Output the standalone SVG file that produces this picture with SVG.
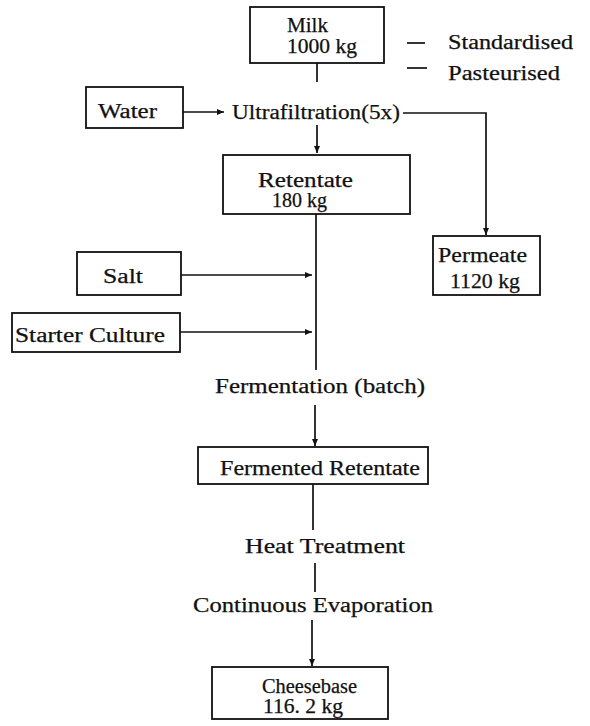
<svg xmlns="http://www.w3.org/2000/svg" width="590" height="726" viewBox="0 0 590 726">
<style>
.box{fill:none;stroke:#111;stroke-width:1.8}
.ln{fill:none;stroke:#111;stroke-width:1.7}
text{font-family:"Liberation Serif","Times New Roman",serif;font-size:20px;fill:#111;stroke:#111;stroke-width:0.25}
</style>
<defs>
<marker id="ah" markerWidth="8" markerHeight="8" refX="7" refY="4" orient="auto" markerUnits="userSpaceOnUse">
<path d="M0,1 L7,4 L0,7 Z" fill="#111"/>
</marker>
</defs>
<rect width="590" height="726" fill="#fff"/>
<g id="milk"><rect class="box" x="250" y="7" width="134" height="56"/>
<text x="287" y="32" textLength="41" lengthAdjust="spacingAndGlyphs">Milk</text>
<text x="287" y="53" textLength="70" lengthAdjust="spacingAndGlyphs">1000 kg</text></g>
<g id="standardised"><text x="448" y="49" textLength="125" lengthAdjust="spacingAndGlyphs">Standardised</text></g>
<g id="pasteurised"><text x="448" y="80" textLength="112" lengthAdjust="spacingAndGlyphs">Pasteurised</text></g>
<g id="water"><rect class="box" x="86" y="87" width="97" height="41"/>
<text x="98" y="118" textLength="59" lengthAdjust="spacingAndGlyphs">Water</text></g>
<g id="ultrafiltration"><text x="232" y="119" textLength="168" lengthAdjust="spacingAndGlyphs">Ultrafiltration(5x)</text></g>
<g id="retentate"><rect class="box" x="223" y="155" width="187" height="59"/>
<text x="258" y="187" textLength="95" lengthAdjust="spacingAndGlyphs">Retentate</text>
<text x="272" y="207" textLength="55" lengthAdjust="spacingAndGlyphs">180 kg</text></g>
<g id="permeate"><rect class="box" x="433" y="236" width="107" height="59"/>
<text x="438" y="262" textLength="89" lengthAdjust="spacingAndGlyphs">Permeate</text>
<text x="450" y="288" textLength="70" lengthAdjust="spacingAndGlyphs">1120 kg</text></g>
<g id="salt"><rect class="box" x="77" y="252" width="104" height="43"/>
<text x="103" y="283" textLength="40" lengthAdjust="spacingAndGlyphs">Salt</text></g>
<g id="starter"><rect class="box" x="12" y="313" width="168" height="39"/>
<text x="15" y="342" textLength="150" lengthAdjust="spacingAndGlyphs">Starter Culture</text></g>
<g id="fermentation"><text x="215" y="393" textLength="210" lengthAdjust="spacingAndGlyphs">Fermentation (batch)</text></g>
<g id="fermented"><rect class="box" x="198" y="447" width="230" height="37"/>
<text x="220" y="475" textLength="200" lengthAdjust="spacingAndGlyphs">Fermented Retentate</text></g>
<g id="heat"><text x="245" y="553" textLength="160" lengthAdjust="spacingAndGlyphs">Heat Treatment</text></g>
<g id="evaporation"><text x="193" y="612" textLength="240" lengthAdjust="spacingAndGlyphs">Continuous Evaporation</text></g>
<g id="cheesebase"><rect class="box" x="212" y="667" width="176" height="52"/>
<text x="262" y="693" textLength="95" lengthAdjust="spacingAndGlyphs">Cheesebase</text>
<text x="263" y="713" textLength="80" lengthAdjust="spacingAndGlyphs">116. 2 kg</text></g>
<g id="connectors">
<path class="ln" d="M317,63 V82"/>
<path class="ln" d="M407,43 H425"/>
<path class="ln" d="M407,68 H427"/>
<path class="ln" d="M183,112 H224" marker-end="url(#ah)"/>
<path class="ln" d="M317,125 V153" marker-end="url(#ah)"/>
<path class="ln" d="M403,113 H486 V235" marker-end="url(#ah)"/>
<path class="ln" d="M316,214 V370"/>
<path class="ln" d="M181,275 H312" marker-end="url(#ah)"/>
<path class="ln" d="M180,332 H312" marker-end="url(#ah)"/>
<path class="ln" d="M315,405 V446" marker-end="url(#ah)"/>
<path class="ln" d="M313,484 V530"/>
<path class="ln" d="M315,563 V592"/>
<path class="ln" d="M312,620 V666" marker-end="url(#ah)"/>
</g>
</svg>
